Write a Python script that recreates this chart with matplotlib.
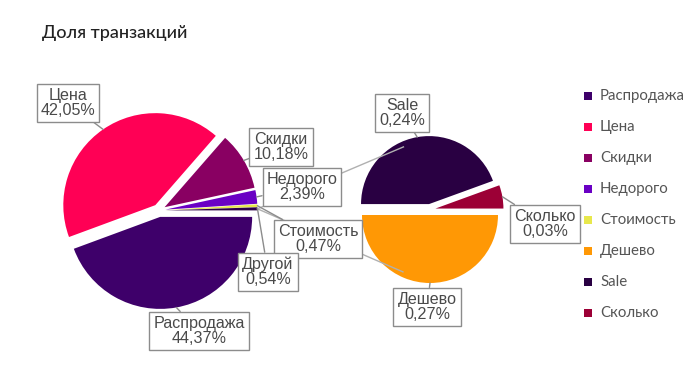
import numpy as np
import matplotlib
matplotlib.use('Agg')
import matplotlib.pyplot as plt
from matplotlib.patches import Rectangle

title = 'Доля транзакций'
main_labels = ['Распродажа', 'Цена', 'Скидки', 'Недорого', 'Стоимость', 'Другой']
main_values = [44.37, 42.05, 10.18, 2.39, 0.47, 0.54]
main_colors = ['#3e006a', '#ff0055', '#890062', '#6a00c4', '#e8e84c', '#2c0046']
sub_labels = ['Дешево', 'Sale', 'Сколько']
sub_values = [0.27, 0.24, 0.03]
sub_colors = ['#ff9805', '#290042', '#9c0036']

W, H = 698, 374
fig = plt.figure(figsize=(W / 100, H / 100), dpi=100)
ax = fig.add_axes([0, 0, 1, 1])


def Y(y):
    return H - y


# explode offsets are in data (pixel) units
c1, r1, e1 = (159, Y(210.5)), 92, 6.5
c2, r2, e2 = (430, Y(209.5)), 68, 5.5

w1, _ = ax.pie(main_values, colors=main_colors, startangle=0, counterclock=False,
               center=c1, radius=r1, explode=[e1] * len(main_values),
               wedgeprops=dict(linewidth=0), frame=True)
w2, _ = ax.pie(sub_values, colors=sub_colors, startangle=0, counterclock=False,
               center=c2, radius=r2, explode=[e2] * len(sub_values),
               wedgeprops=dict(linewidth=0), frame=True)
ax.set_xlim(0, W)
ax.set_ylim(0, H)
ax.set_aspect('equal')
ax.axis('off')


def edge_point(w):
    th = np.deg2rad((w.theta1 + w.theta2) / 2)
    cx, cy = w.center
    return cx + w.r * np.cos(th), cy + w.r * np.sin(th)


# connector lines from "Другой" to the sub pie (tangents)
P = np.array(edge_point(w1[-1]))
C = np.array(c2, dtype=float)
d = np.linalg.norm(C - P)
alpha = np.arccos(r2 / d)
base = np.arctan2(P[1] - C[1], P[0] - C[0])
for s in (1, -1):
    T = C + r2 * np.array([np.cos(base + s * alpha), np.sin(base + s * alpha)])
    ax.plot([P[0], T[0]], [P[1], T[1]], color='#b0b0b0', lw=1, zorder=1)

label_font = ['Liberation Sans', 'DejaVu Sans']
main_pos = [(199, 331), (68, 103), (281, 147), (302, 187), (318, 239), (268, 272)]
sub_pos = [(427, 307), (402, 113), (545, 224)]


def fmt(name, v):
    return f"{name}\n{v:.2f}%".replace('.', ',')


for wedges, labels, values, pos in ((w1, main_labels, main_values, main_pos),
                                     (w2, sub_labels, sub_values, sub_pos)):
    for w, name, v, (tx, ty) in zip(wedges, labels, values, pos):
        ax.annotate(fmt(name, v), xy=edge_point(w), xytext=(tx, Y(ty)),
                    ha='center', va='center', fontsize=11.6, family=label_font,
                    color='#4a4a4a', linespacing=1.0,
                    bbox=dict(boxstyle='square,pad=0.25', fc='white', ec='#8c8c8c', lw=1),
                    arrowprops=dict(arrowstyle='-', color='#8c8c8c', lw=1,
                                    shrinkA=0, shrinkB=0),
                    zorder=5)

# legend
leg_font = ['Lato', 'DejaVu Sans']
leg_labels = main_labels[:-1] + sub_labels
leg_colors = main_colors[:-1] + sub_colors
for i, (name, col) in enumerate(zip(leg_labels, leg_colors)):
    yy = Y(96 + 31 * i)
    ax.add_patch(Rectangle((584, yy - 4), 8, 8, color=col, lw=0))
    ax.text(600, yy, name, va='center', ha='left', fontsize=10.8, color='#555555',
            family=leg_font)

ax.text(42, Y(33), title, va='center', ha='left', fontsize=13, color='#222222',
        family=leg_font, weight='medium')

fig.savefig('out.png', dpi=100)
